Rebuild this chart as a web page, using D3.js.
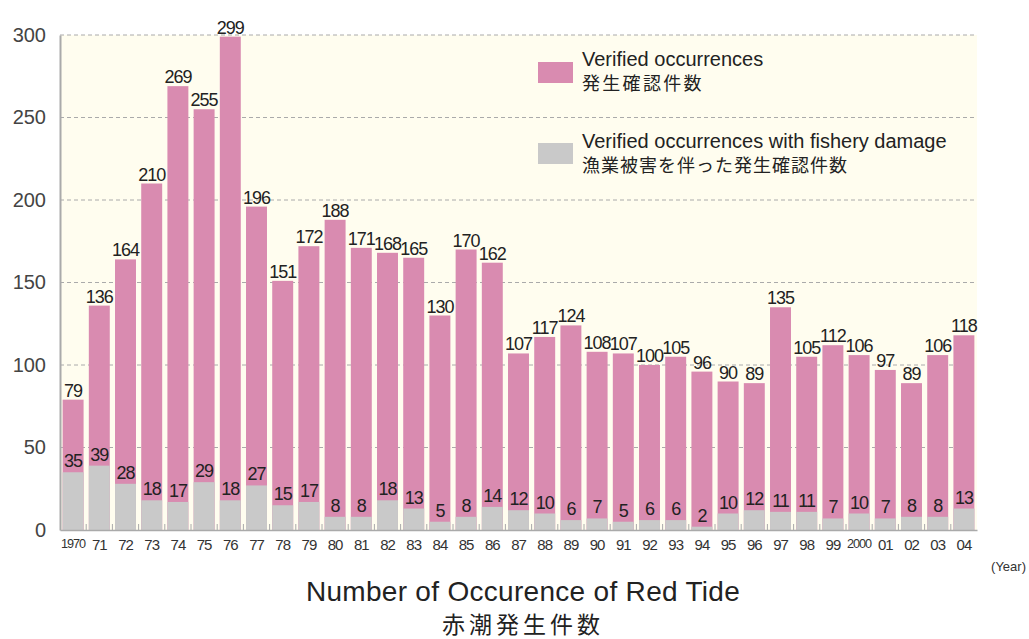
<!DOCTYPE html>
<html><head><meta charset="utf-8">
<script src="https://cdn.jsdelivr.net/npm/d3@7"></script>
<style>body{margin:0;background:#fff;} svg{display:block;}</style>
</head><body>
<svg id="c" width="1029" height="639"></svg>
<script>
const years = ["1970","71","72","73","74","75","76","77","78","79","80","81","82","83","84","85","86","87","88","89","90","91","92","93","94","95","96","97","98","99","2000","01","02","03","04"];
const verified = [79,136,164,210,269,255,299,196,151,172,188,171,168,165,130,170,162,107,117,124,108,107,100,105,96,90,89,135,105,112,106,97,89,106,118];
const damage = [35,39,28,18,17,29,18,27,15,17,8,8,18,13,5,8,14,12,10,6,7,5,6,6,2,10,12,11,11,7,10,7,8,8,13];
const yTicks = [0,50,100,150,200,250,300];

const svg = d3.select("#c");
const L = 60, R = 977, T = 35, B = 530;
const font = "'Liberation Sans', Arial, Helvetica, sans-serif";
const cjk = "'Noto Sans CJK JP', sans-serif";
const PINK = "#d98bb0", GREY = "#c9c9c9", CREAM = "#fffdef";

const x = d3.scaleBand().domain(years).range([L, R]).paddingInner(0.2).paddingOuter(0.1);
const y = d3.scaleLinear().domain([0, 300]).range([B, T]);

svg.append("rect").attr("x", L).attr("y", T).attr("width", R - L).attr("height", B - T).attr("fill", CREAM);

// gridlines
svg.append("g").selectAll("line").data(yTicks.filter(d => d > 0)).join("line")
  .attr("x1", L).attr("x2", R).attr("y1", d => y(d)).attr("y2", d => y(d))
  .attr("stroke", "#aaa").attr("stroke-width", 1).attr("stroke-dasharray", "4,3");

// y axis
const yAxis = d3.axisLeft(y).tickValues(yTicks).tickSize(0).tickPadding(14);
const gy = svg.append("g").attr("transform", `translate(${L},0)`).call(yAxis);
gy.select(".domain").attr("stroke", "#aaa").attr("stroke-width", 2);
gy.selectAll("text").attr("font-family", font).attr("font-size", 20).attr("fill", "#444");

// bars
const bars = svg.append("g");
bars.selectAll("rect.v").data(years).join("rect").attr("class", "v")
  .attr("x", d => x(d)).attr("width", x.bandwidth())
  .attr("y", (d, i) => y(verified[i])).attr("height", (d, i) => B - y(verified[i]))
  .attr("fill", PINK);
bars.selectAll("rect.d").data(years).join("rect").attr("class", "d")
  .attr("x", d => x(d)).attr("width", x.bandwidth())
  .attr("y", (d, i) => y(damage[i])).attr("height", (d, i) => B - y(damage[i]))
  .attr("fill", GREY);

// x axis
const xAxis = d3.axisBottom(x).tickSize(0).tickPadding(9);
const gx = svg.append("g").attr("transform", `translate(0,${B})`).call(xAxis);
gx.select(".domain").attr("stroke", "#aaa").attr("stroke-width", 1.5);
gx.selectAll("text").attr("font-family", font).attr("font-size", 15).attr("fill", "#333")
  .attr("letter-spacing", "-1px")
  .each(function(d) { if (d.length === 4) d3.select(this).attr("font-size", 12).attr("textLength", 24).attr("lengthAdjust", "spacingAndGlyphs"); });
// small separators between bars
svg.append("g").selectAll("line").data(years.slice(1)).join("line")
  .attr("x1", d => x(d) - x.step() * 0.1).attr("x2", d => x(d) - x.step() * 0.1)
  .attr("y1", B - 6).attr("y2", B).attr("stroke", "#aaa");

// value labels
const lab = svg.append("g").attr("font-family", font).attr("fill", "#222").attr("text-anchor", "middle").attr("font-size", 18).attr("letter-spacing", "-1px");
lab.selectAll("text.v").data(years).join("text").attr("class", "v")
  .attr("x", d => x(d) + x.bandwidth() / 2).attr("y", (d, i) => y(verified[i]) - 3)
  .text((d, i) => verified[i]);
lab.selectAll("text.d").data(years).join("text").attr("class", "d")
  .attr("x", d => x(d) + x.bandwidth() / 2).attr("y", (d, i) => y(damage[i]) - 5)
  .text((d, i) => damage[i]);

// legend
const lg = svg.append("g");
lg.append("rect").attr("x", 538).attr("y", 62).attr("width", 35).attr("height", 21).attr("fill", PINK);
lg.append("rect").attr("x", 538).attr("y", 143).attr("width", 35).attr("height", 21).attr("fill", GREY);
lg.append("text").attr("x", 582).attr("y", 66).attr("font-family", font).attr("font-size", 20).attr("fill", "#222").text("Verified occurrences");
lg.append("text").attr("x", 582).attr("y", 90).attr("font-family", cjk).attr("font-size", 18).attr("fill", "#222").attr("letter-spacing", "2.3px").text("発生確認件数");
lg.append("text").attr("x", 582).attr("y", 148).attr("font-family", font).attr("font-size", 20).attr("fill", "#222").text("Verified occurrences with fishery damage");
lg.append("text").attr("x", 582).attr("y", 172).attr("font-family", cjk).attr("font-size", 18).attr("fill", "#222").attr("letter-spacing", "1px").text("漁業被害を伴った発生確認件数");

// year unit
svg.append("text").attr("x", 1026).attr("y", 571).attr("text-anchor", "end").attr("font-family", font).attr("font-size", 13).attr("fill", "#333").text("(Year)");

// titles
svg.append("text").attr("x", 523).attr("y", 601).attr("text-anchor", "middle").attr("font-family", font).attr("font-size", 28).attr("fill", "#222").attr("letter-spacing", "0.3px").text("Number of Occurence of Red Tide");
svg.append("text").attr("x", 523).attr("y", 633).attr("text-anchor", "middle").attr("font-family", cjk).attr("font-size", 23).attr("fill", "#222").attr("letter-spacing", "4px").text("赤潮発生件数");
</script>
</body></html>
